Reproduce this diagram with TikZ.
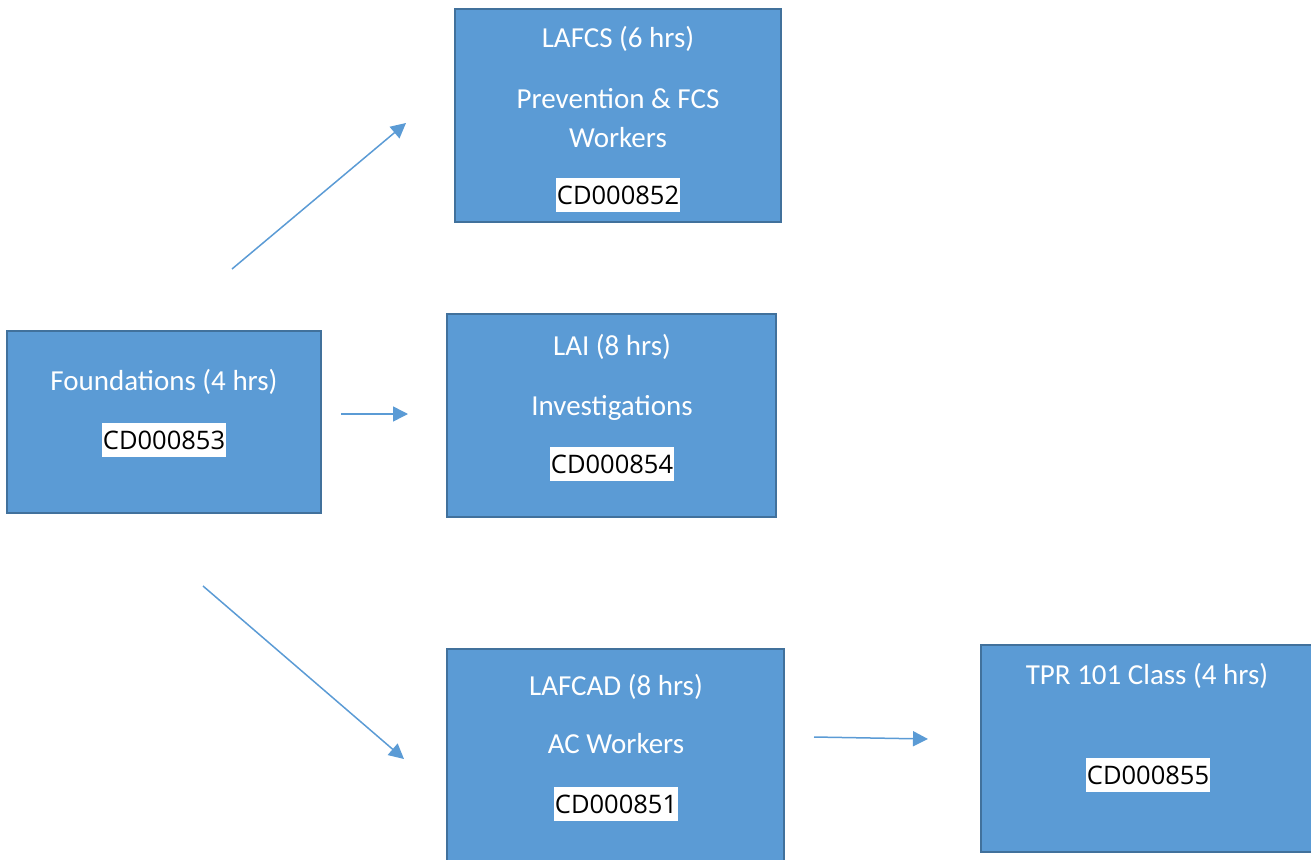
\documentclass[tikz,border=0pt]{standalone}
\usepackage{fontspec}
\setmainfont{Carlito}
\newfontfamily\codefont{Open Sans}
\usetikzlibrary{arrows.meta}

\definecolor{boxfill}{HTML}{5B9BD5}
\definecolor{boxline}{HTML}{41719C}

\tikzset{
  course/.style={draw=boxline, line width=1.8pt, fill=boxfill, inner sep=0pt},
  title/.style={anchor=base, text=white, inner sep=0pt, font=\fontsize{29}{34}\selectfont},
  code/.style={fill=white, text=black, inner xsep=1pt, inner ysep=0pt, minimum height=34pt,
    font=\codefont\fontsize{25.5}{30}\selectfont},
  flow/.style={draw=boxfill, line width=1.5pt, -{Triangle[length=15pt,width=15pt]}}
}

\begin{document}
\begin{tikzpicture}[x=1pt, y=-1pt]
  \useasboundingbox (0,0) rectangle (1311,859);

  % course boxes
  \node[course, minimum width=314pt, minimum height=182pt] (found)  at (164,422) {};
  \node[course, minimum width=326pt, minimum height=213pt] (lafcs)  at (618,115.5) {};
  \node[course, minimum width=329pt, minimum height=203pt] (lai)    at (611.5,415.5) {};
  \node[course, minimum width=337pt, minimum height=218pt] (lafcad) at (615.5,758) {};
  \node[course, minimum width=332pt, minimum height=207pt] (tpr)    at (1147,748.5) {};

  % titles
  \node[title] (foundT) at (164,390) {Foundations (4 hrs)};
  \node[title] (lafcsT) at (618,48) {LAFCS (6 hrs)};
  \node[title] (lafcsA) at (618,108) {Prevention \& FCS};
  \node[title] (lafcsB) at (618,147) {Workers};
  \node[title] (laiT) at (612,355) {LAI (8 hrs)};
  \node[title] (laiA) at (612,415) {Investigations};
  \node[title] (lafcadT) at (616,695) {LAFCAD (8 hrs)};
  \node[title] (lafcadA) at (616,753) {AC Workers};
  \node[title] (tprT) at (1147,684) {TPR 101 Class (4 hrs)};

  % course codes
  \node[code] (foundC)  at (164,440) {CD000853};
  \node[code] (lafcsC)  at (618,195) {CD000852};
  \node[code] (laiC)    at (612,464) {CD000854};
  \node[code] (lafcadC) at (616,804) {CD000851};
  \node[code] (tprC)    at (1148,775) {CD000855};

  % free arrow ends
  \coordinate (up1) at (232,269);   \coordinate (up2) at (406,123);
  \coordinate (mid1) at (341,414);  \coordinate (mid2) at (408,414);
  \coordinate (dn1) at (203,586);   \coordinate (dn2) at (404,759);
  \coordinate (rt1) at (814,737);   \coordinate (rt2) at (928,739);

  \draw[flow] (up1) -- (up2);
  \draw[flow] (mid1) -- (mid2);
  \draw[flow] (dn1) -- (dn2);
  \draw[flow] (rt1) -- (rt2);
\end{tikzpicture}
\end{document}
